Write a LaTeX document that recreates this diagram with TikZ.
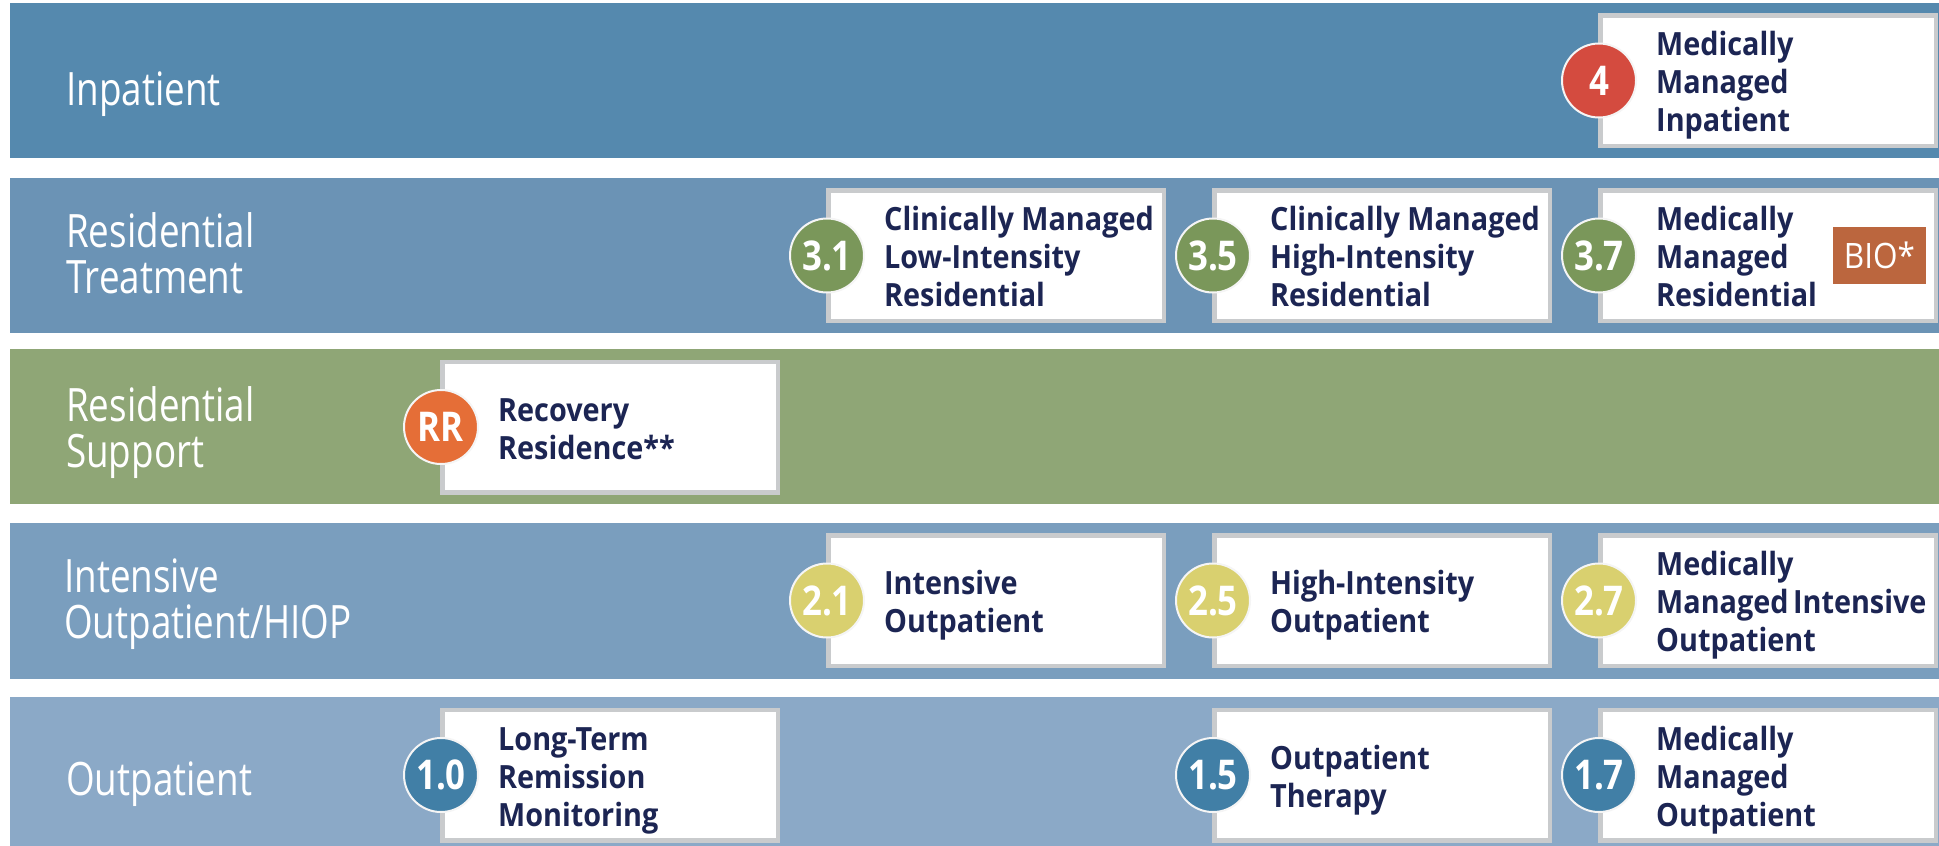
\documentclass[tikz,border=0pt]{standalone}
\usepackage{fontspec}
\setmainfont{Open Sans}
\newfontfamily\labfont{Open Sans}[FakeStretch=0.8]
\newfontfamily\boxfont{Open Sans}[FakeStretch=0.9]
\newfontfamily\numfont{Open Sans}[FakeStretch=0.85]
\definecolor{bandA}{HTML}{5589AE}
\definecolor{bandB}{HTML}{6B93B5}
\definecolor{bandC}{HTML}{8FA676}
\definecolor{bandD}{HTML}{7A9EBE}
\definecolor{bandE}{HTML}{8BA9C7}
\definecolor{boxgray}{HTML}{C9CBCD}
\definecolor{navy}{HTML}{1C2553}
\definecolor{cred}{HTML}{D44B3F}
\definecolor{cgreen}{HTML}{7A975A}
\definecolor{corange}{HTML}{E56E37}
\definecolor{cyellow}{HTML}{D9D06F}
\definecolor{cblue}{HTML}{417FA6}
\definecolor{bio}{HTML}{BB663E}
\tikzset{
  lvlbox/.style={rectangle, draw=boxgray, line width=4.5pt, fill=white,
    minimum width=335.5pt, minimum height=130.5pt, inner sep=0pt},
  lvltext/.style={anchor=base west, inner sep=0pt, align=left, text=navy,
    font=\boxfont\bfseries\fontsize{32}{38}\selectfont},
  lvlnum/.style={circle, fill=#1, draw=white!92!gray, line width=2pt,
    minimum size=74pt, inner sep=0pt, text=white,
    font=\numfont\bfseries\fontsize{41}{41}\selectfont},
  bandlabel/.style={anchor=base west, inner sep=0pt, align=left, text=white,
    font=\labfont\fontsize{46}{46}\selectfont},
  biotag/.style={rectangle, fill=bio, minimum width=93pt, minimum height=57pt,
    inner sep=0pt, text=white, font=\boxfont\fontsize{35}{35}\selectfont},
}
% #1 name, #2 left x, #3 centre y, #4 colour, #5 number, #6 text,
% #7 offset of the last baseline below the centre
\newcommand\lvlitem[7]{%
  \node[lvlbox] (#1) at ({#2+170},#3) {};
  \node[lvltext] (#1t) at ({#2+58},{#3+#7}) {#6};
  \node[lvlnum=#4] (#1n) at ({#2+1},#3) {#5};
}
\begin{document}
\begin{tikzpicture}[x=1pt,y=-1pt]
\fill[white] (0,0) rectangle (1939,846);
\useasboundingbox (0,0) rectangle (1939,846);
% bands
\fill[bandA] (10,3) rectangle (1939,158);
\fill[bandB] (10,178) rectangle (1939,333);
\fill[bandC] (10,349) rectangle (1939,504);
\fill[bandD] (10,523) rectangle (1939,679);
\fill[bandE] (10,697) rectangle (1939,852);
% band labels (anchor = baseline of last line)
\node[bandlabel] (lInp) at (66,105) {Inpatient};
\node[bandlabel] (lRes) at (66,293) {Residential\\Treatment};
\node[bandlabel] (lSup) at (66,467.5) {Residential\\Support};
\node[bandlabel] (lIOP) at (64,638) {Intensive\\Outpatient/HIOP};
\node[bandlabel] (lOut) at (66,795) {Outpatient};
% inpatient
\lvlitem{l4}{1598}{80.5}{cred}{4}{Medically\\Managed\\Inpatient}{51}
% residential treatment
\lvlitem{l31}{826}{255.5}{cgreen}{3.1}{Clinically Managed\\Low-Intensity\\Residential}{51}
\lvlitem{l35}{1212}{255.5}{cgreen}{3.5}{Clinically Managed\\High-Intensity\\Residential}{51}
\lvlitem{l37}{1598}{255.5}{cgreen}{3.7}{Medically\\Managed\\Residential}{51}
\node[biotag] (bio) at (1879.5,255.5) {BIO*};
% residential support
\lvlitem{lRR}{440}{427}{corange}{RR}{Recovery\\Residence**}{32}
% intensive outpatient
\lvlitem{l21}{826}{600.5}{cyellow}{2.1}{Intensive\\Outpatient}{32}
\lvlitem{l25}{1212}{600.5}{cyellow}{2.5}{High-Intensity\\Outpatient}{32}
\lvlitem{l27}{1598}{600.5}{cyellow}{2.7}{Medically\\Managed\hspace{-3pt} Intensive\\Outpatient}{51}
% outpatient
\lvlitem{l10}{440}{775}{cblue}{1.0}{Long-Term\\Remission\\Monitoring}{51}
\lvlitem{l15}{1212}{775}{cblue}{1.5}{Outpatient\\Therapy}{32}
\lvlitem{l17}{1598}{775}{cblue}{1.7}{Medically\\Managed\\Outpatient}{51}
\end{tikzpicture}
\end{document}
